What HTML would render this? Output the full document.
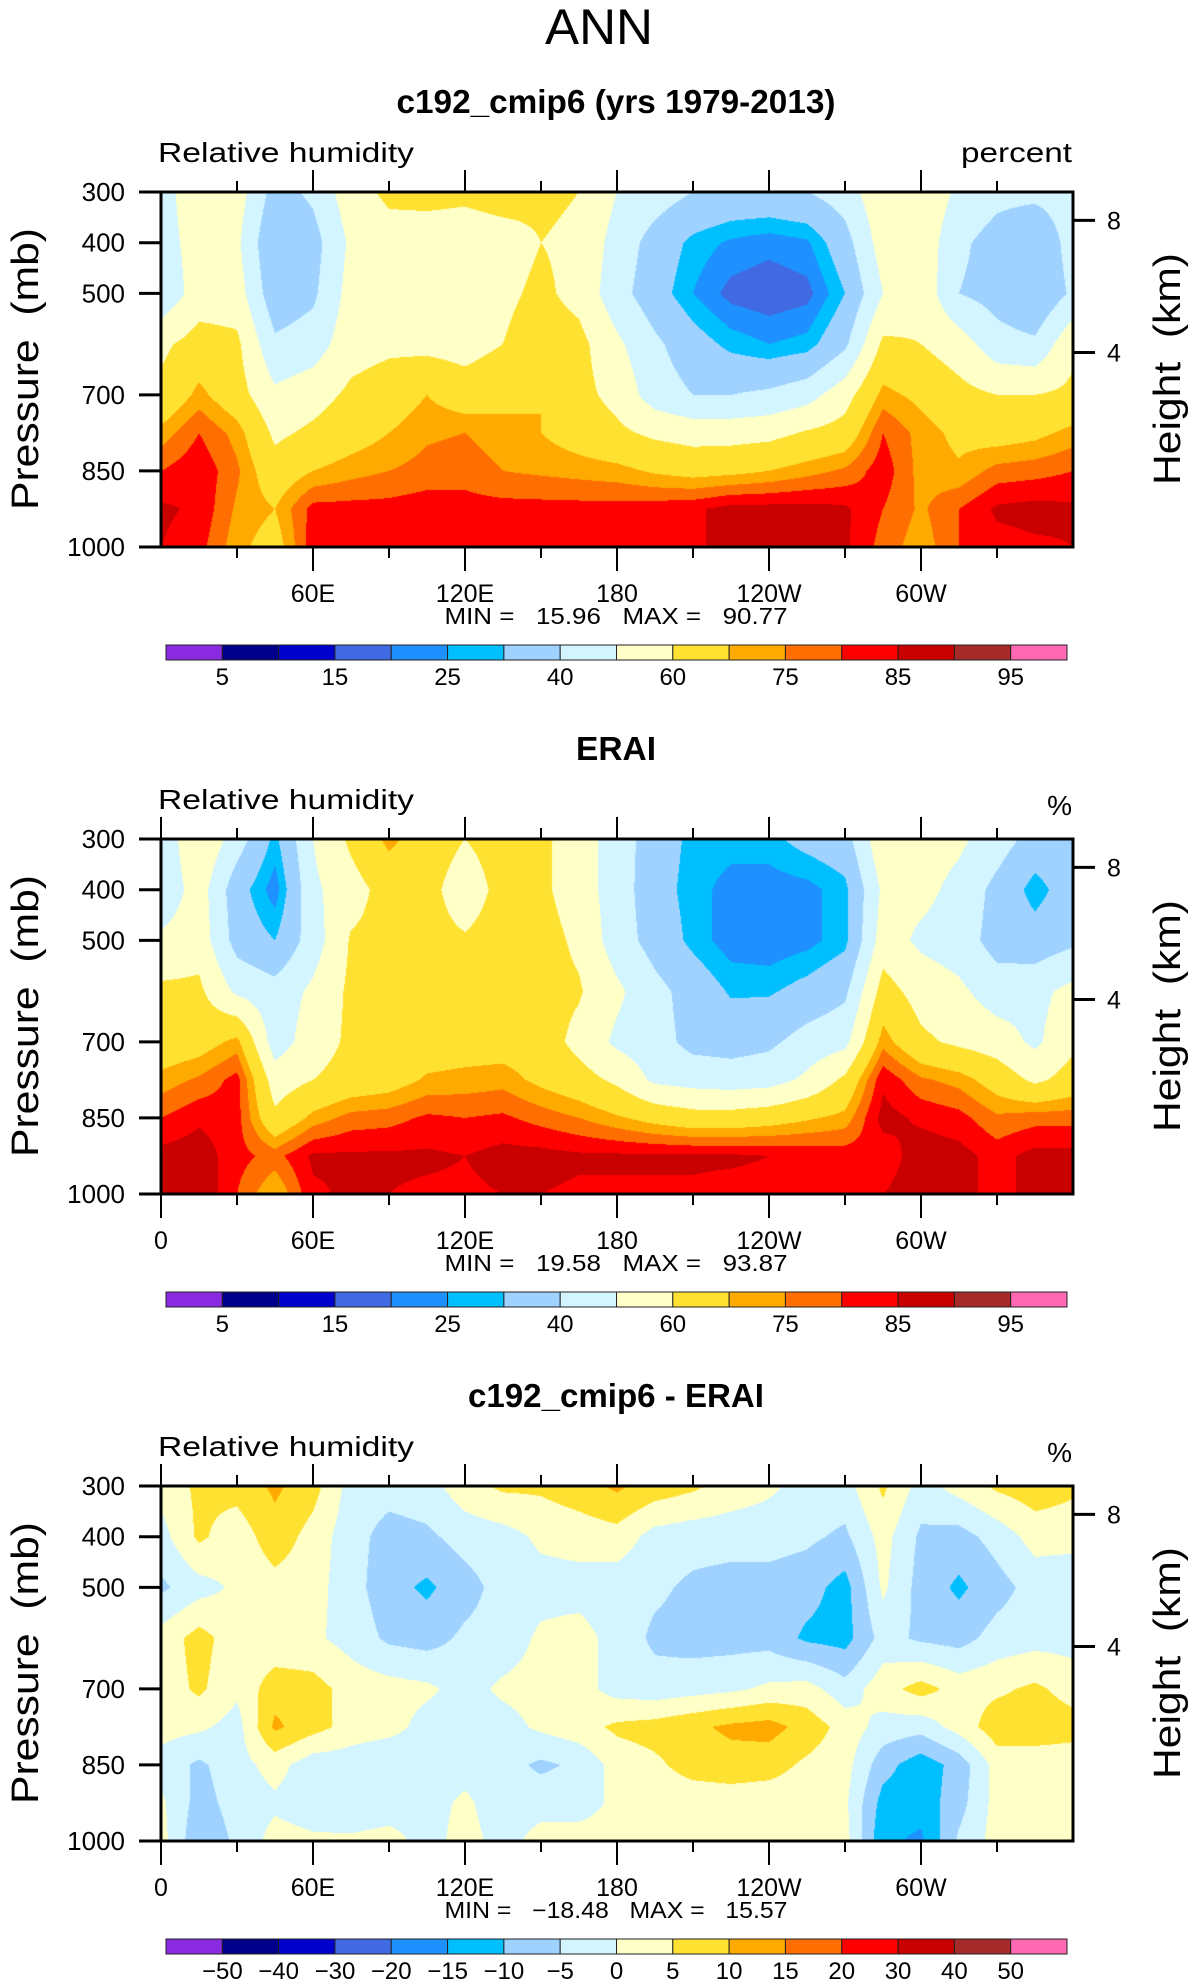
<!DOCTYPE html>
<html><head><meta charset="utf-8">
<style>
html,body{margin:0;padding:0;background:#fff;}
#wrap{position:relative;width:1196px;height:1987px;overflow:hidden;background:#fff;}
canvas{position:absolute;}
svg{position:absolute;left:0;top:0;}
text{font-family:"Liberation Sans",sans-serif;fill:#000;}
</style></head>
<body>
<div id="wrap">
<canvas id="c1" width="912" height="355" style="left:161px;top:192px"></canvas>
<canvas id="c2" width="912" height="355" style="left:161px;top:839px"></canvas>
<canvas id="c3" width="912" height="355" style="left:161px;top:1486px"></canvas>
<svg id="ov" width="1196" height="1987"></svg>
</div>
<script>
const lons=[0,15,30,45,60,75,90,105,120,135,150,165,180,195,210,225,240,255,270,285,300,315,330,345,360];
const levels=[300,400,500,600,700,775,850,925,1000];
const rhModel=[
[45,58,55,36,42,56,62,63,62,64,62,60,50,45,40,38,38,40,45,58,58,48,43,43,45],
[45,55,52,30,36,52,56,55,55,56,60,58,46,36,28,24,22,24,36,55,57,42,36,30,45],
[42,55,55,33,38,54,56,55,55,58,62,57,44,34,25,18,16,18,30,50,57,40,36,30,42],
[58,64,62,42,45,56,58,57,56,60,65,63,52,42,34,28,25,27,38,62,60,55,44,42,58],
[62,72,64,52,56,62,65,70,65,68,70,63,57,45,40,40,42,46,56,72,68,63,60,60,62],
[72,80,73,58,62,66,70,74,75,72,70,66,62,58,56,56,57,61,64,80,73,68,66,68,72],
[80,84,76,64,70,73,75,77,78,75,74,73,72,69,67,68,70,73,76,83,73,71,77,78,80],
[86,84,74,70,82,82,82,83,82,82,82,82,82,83,84,87,87,87,86,80,74,80,86,87,86],
[85,82,72,66,83,83,83,83,82,83,83,83,83,83,84,87,87,87,86,78,72,80,83,84,85]];
const rhErai=[
[42,60,45,28,50,62,72,65,60,64,62,55,45,35,28,27,28,33,36,58,55,52,45,36,38],
[42,55,34,22,48,56,64,63,55,63,62,55,45,34,27,23,22,23,28,52,53,47,37,27,35],
[52,56,36,30,45,61,63,63,61,64,64,58,45,36,28,22,21,23,28,55,48,45,36,34,38],
[62,62,48,44,52,62,64,64,64,64,64,61,52,43,36,29,29,33,38,64,56,52,45,47,53],
[64,66,72,45,55,62,65,65,66,66,65,57,48,44,37,36,38,44,47,73,62,58,55,48,58],
[72,76,82,55,60,64,66,71,72,73,68,64,58,48,46,45,46,52,62,84,76,73,66,58,64],
[80,84,82,62,72,77,78,81,80,81,78,75,71,67,64,64,66,69,72,87,84,82,76,78,78],
[87,88,82,78,86,86,86,86,85,87,87,86,86,86,86,86,85,84,83,82,88,87,83,87,87],
[87,90,80,70,84,86,85,84,84,85,85,84,84,84,84,83,83,83,82,85,88,86,84,86,87]];
const rhDiff=[
[2,6,7,11,7,-2,-3,-2,3,6,6,8,11,8,6,3,1,-2,-2,6,-2,2,6,8,6],
[-2,6,2,8,3,-3,-7,-6,-3,-2,1,2,3,-2,-3,-3,-3,-4,-6,2,-6,-7,-3,2,2],
[-6,-2,1,3,2,-3,-8,-11,-7,-3,-2,-2,-3,-4,-6,-7,-7,-8,-12,1,-7,-11,-7,-3,-4],
[2,7,2,1,1,-2,-6,-7,-4,-3,1,2,-2,-6,-7,-7,-7,-11,-12,-3,-6,-7,-3,-2,-2],
[2,6,1,8,7,3,2,1,-2,1,2,2,-2,-3,-2,-1,1,2,-3,3,7,3,4,6,3],
[2,1,-2,11,7,3,2,-2,-2,-2,1,3,6,7,9,11,12,8,3,-2,-3,2,8,8,7],
[-2,-6,-2,2,-3,-3,-5,-3,-2,-3,-6,-4,2,4,7,8,7,4,2,-8,-13,-8,2,2,2],
[1,-7,-3,-1,-3,-4,-3,-2,1,-3,-2,-2,1,2,2,2,2,2,1,-12,-13,-7,2,2,1],
[2,-9,-4,2,1,1,2,-2,2,-2,2,2,2,2,2,2,2,2,2,-14,-16,-4,2,2,2]];
const rhLevels=[5,10,15,20,25,30,40,50,60,70,75,80,85,90,95];
const diffLevels=[-50,-40,-30,-20,-15,-10,-5,0,5,10,15,20,30,40,50];
const rhLabels=['','5','','15','','25','','40','','60','','75','','85','','95',''];
const diffLabels=['-50','-40','-30','-20','-15','-10','-5','0','5','10','15','20','30','40','50'];
const colors=['#8a2be2','#00008b','#0000cd','#4169e1','#1e90ff','#00bfff','#a0d2ff','#d2f5ff','#ffffc8','#ffe132','#ffaa00','#ff6e00','#ff0000','#c80000','#a52a2a','#ff69b4'];
const pTicks=[300,400,500,700,850,1000];
const lonTicks=[0,60,120,180,240,300];
const lonTickLabels=['0','60E','120E','180','120W','60W'];
const heightTicks=[4,8];
const minMax=[['15.96','90.77'],['19.58','93.87'],['-18.48','15.57']];

const PL=161,PW=912,PH=355;
const tops=[192,839,1486];
function xOf(lon){return PL+lon/360*PW;}
function yOf(top,p){return top+(p-300)/700*PH;}
function hex(c){return [parseInt(c.substr(1,2),16),parseInt(c.substr(3,2),16),parseInt(c.substr(5,2),16)];}
const rgb=colors.map(hex);

function drawField(id,data,lv){
  const cv=document.getElementById(id),ctx=cv.getContext('2d');
  const img=ctx.createImageData(PW,PH);
  for(let py=0;py<PH;py++){
    const p=300+(py+0.5)/PH*700;
    let j=0;while(j<levels.length-2&&p>levels[j+1])j++;
    const ty=(p-levels[j])/(levels[j+1]-levels[j]);
    for(let px=0;px<PW;px++){
      const lon=(px+0.5)/PW*360;
      let i=0;while(i<lons.length-2&&lon>lons[i+1])i++;
      const tx=(lon-lons[i])/(lons[i+1]-lons[i]);
      const v=(data[j][i]*(1-tx)+data[j][i+1]*tx)*(1-ty)+(data[j+1][i]*(1-tx)+data[j+1][i+1]*tx)*ty;
      let k=0;while(k<lv.length&&v>=lv[k])k++;
      const c=rgb[k],o=(py*PW+px)*4;
      img.data[o]=c[0];img.data[o+1]=c[1];img.data[o+2]=c[2];img.data[o+3]=255;
    }
  }
  ctx.putImageData(img,0,0);
}
drawField('c1',rhModel,rhLevels);
drawField('c2',rhErai,rhLevels);
drawField('c3',rhDiff,diffLevels);

const NS='http://www.w3.org/2000/svg';
const ov=document.getElementById('ov');
function mk(tag,attrs,txt){const e=document.createElementNS(NS,tag);for(const k in attrs)e.setAttribute(k,attrs[k]);if(txt!==undefined)e.textContent=txt;ov.appendChild(e);return e;}
function line(x1,y1,x2,y2,w,name){const e=mk('line',{x1:x1,y1:y1,x2:x2,y2:y2,stroke:'#000','stroke-width':w});

return e;}
function txt(x,y,s,size,anchor,name,extra){const a={x:x,y:y,'font-size':size,'text-anchor':anchor||'start'};if(extra)for(const k in extra)a[k]=extra[k];const e=mk('text',a,s);

return e;}
function hToP(h){return 1013.25*Math.pow(1-2.25577e-5*h*1000,5.25588);}

txt(599,44,'ANN',50,'middle','figure-title',{textLength:108,lengthAdjust:'spacingAndGlyphs'});
const titles=['c192_cmip6 (yrs 1979-2013)','ERAI','c192_cmip6 - ERAI'];
const titleW=[439,80,296];
const units=['percent','%','%'];
const NB='\u00a0';
for(let n=0;n<3;n++){
  const T=tops[n],off=T-192;
  txt(616,113+off,titles[n],33,'middle','panel-title',{'font-weight':'bold',textLength:titleW[n],lengthAdjust:'spacingAndGlyphs'});
  txt(158,162+off,'Relative humidity',28,'start','variable-label',{textLength:256,lengthAdjust:'spacingAndGlyphs'});
  if(n===0) txt(1072,162+off,units[n],28,'end','units-label',{textLength:111,lengthAdjust:'spacingAndGlyphs'});
  else txt(1072,168+off,units[n],28,'end','units-label');
  pTicks.forEach(p=>{const y=yOf(T,p);line(139,y,PL,y,3,'pressure-tick');txt(125,y+9,String(p),26,'end','pressure-tick-label');});
  heightTicks.forEach(h=>{const y=yOf(T,hToP(h));line(PL+PW,y,PL+PW+22,y,3,'height-tick');txt(1107,y+9,String(h),25,'start','height-tick-label');});
  for(let lon=0;lon<360;lon+=30){
    if(n===0&&lon===0)continue;
    const x=xOf(lon),maj=lon%60===0;
    line(x,T,x,T-(maj?22:11),2,'lon-tick-top');
    line(x,T+PH,x,T+PH+(maj?24:11),2,'lon-tick-bottom');
  }
  lonTicks.forEach((lon,i)=>{if(n===0&&lon===0)return;txt(xOf(lon),602+off,lonTickLabels[i],25,'middle','lon-tick-label');});
  const r=mk('rect',{x:PL,y:T,width:PW,height:PH,fill:'none',stroke:'#000','stroke-width':3});
  
  
  txt(0,0,'Pressure'+NB+NB+'(mb)',38,'middle','y-axis-title',{transform:'translate(38,'+(369+off)+') rotate(-90)',textLength:282,lengthAdjust:'spacingAndGlyphs'});
  txt(0,0,'Height'+NB+NB+'(km)',38,'middle','right-axis-title',{transform:'translate(1180,'+(369+off)+') rotate(-90)',textLength:232,lengthAdjust:'spacingAndGlyphs'});
  const mn=minMax[n][0].replace('-','\u2212');
  txt(616,624+off,'MIN'+NB+'='+NB+NB+NB+mn+NB+NB+NB+'MAX'+NB+'='+NB+NB+NB+minMax[n][1],23,'middle','min-max-label',{textLength:343,lengthAdjust:'spacingAndGlyphs'});
  const cbL=166,cbR=1067,cbT=645+off,cbH=15,bw=(cbR-cbL)/16;
  for(let k=0;k<16;k++){
    const b=mk('rect',{x:cbL+k*bw,y:cbT,width:bw,height:cbH,fill:colors[k],stroke:'#222','stroke-width':1});
    
    
  }
  for(let k=0;k<15;k++){
    const lab=n===2?diffLabels[k]:rhLabels[k+1];
    if(lab) txt(cbL+(k+1)*bw,cbT+40,lab.replace('-','\u2212'),24,'middle','colorbar-label');
  }
}
</script>
</body></html>
